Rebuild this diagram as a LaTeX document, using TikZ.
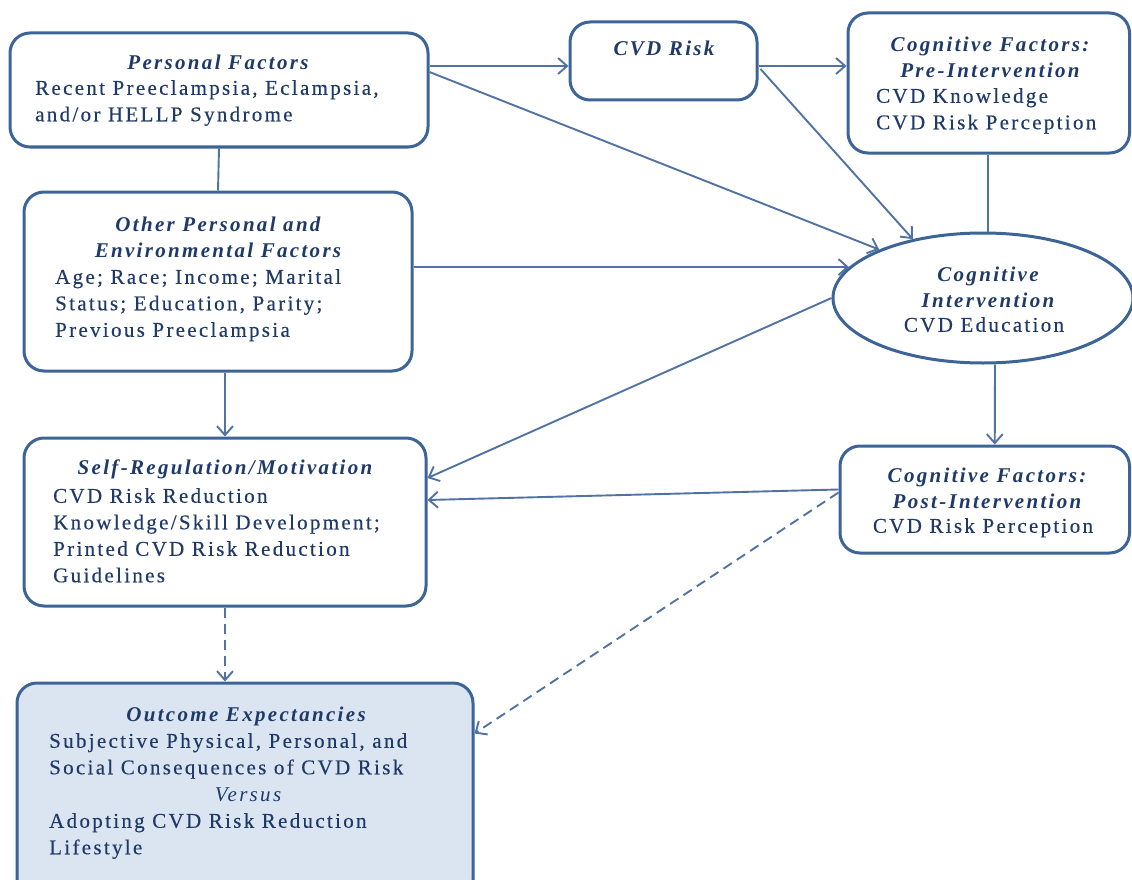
\documentclass[tikz,border=0pt]{standalone}
\usepackage{fontspec}
\setmainfont{Liberation Serif}[LetterSpace=11]
\usetikzlibrary{arrows.meta,shapes.geometric}
\definecolor{bord}{HTML}{3C6497}
\definecolor{conn}{HTML}{5073A3}
\definecolor{txt}{HTML}{1F3A68}
\definecolor{fillb}{HTML}{DBE5F1}
\begin{document}
\begin{tikzpicture}[x=1pt,y=-1pt,
  box/.style={draw=bord, line width=3pt, rounded corners=20pt, fill=white, inner sep=0pt},
  ttl/.style={font=\fontsize{21}{26}\selectfont\bfseries\itshape, text=txt, inner sep=0pt, align=center},
  bdy/.style={font=\fontsize{21}{26.5}\selectfont\addfontfeature{FakeBold=0.3}, text=txt, inner sep=0pt, align=left, anchor=north west},
  arr/.style={draw=conn, line width=1.9pt, -{Straight Barb[length=9pt,width=16pt]}},
  ln/.style={draw=conn, line width=1.9pt},
  dsh/.style={arr, dash pattern=on 10pt off 6pt}]
\useasboundingbox (0,0) rectangle (1132,880);
\fill[white] (0,0) rectangle (1132,880);
% boxes
\node[box, minimum width=418pt, minimum height=114pt] (pf) at (219,90) {};
\node[box, minimum width=187pt, minimum height=78pt] (cvd) at (663.5,61) {};
\node[box, minimum width=281.5pt, minimum height=140pt] (cp) at (988.75,83) {};
\node[box, minimum width=388pt, minimum height=179pt] (op) at (218,281.5) {};
\node[draw=bord, line width=3pt, ellipse, fill=white, minimum width=300pt, minimum height=130pt, inner sep=0pt] (ci) at (983,298) {};
\node[box, minimum width=402pt, minimum height=168pt] (sr) at (225,522) {};
\node[box, minimum width=289.5pt, minimum height=107pt] (cpo) at (984.75,499.5) {};
\node[box, fill=fillb, minimum width=456pt, minimum height=217pt] (oe) at (245,791.5) {};
% texts
\node[ttl] (t1) at (218,62) {Personal Factors};
\node[bdy] (b1) at (35,80) {Recent Preeclampsia, Eclampsia,\\and/or HELLP Syndrome};
\node[ttl] (t2) at (664,48) {CVD Risk};
\node[ttl] (t3) at (990,57) {Cognitive Factors:\\Pre-Intervention};
\node[bdy] (b3) at (876,88) {CVD Knowledge\\CVD Risk Perception};
\node[ttl] (t4) at (218,237) {Other Personal and\\Environmental Factors};
\node[bdy] (b4) at (55,269) {Age; Race; Income; Marital\\Status; Education, Parity;\\Previous Preeclampsia};
\node[ttl] (t5) at (988,287) {Cognitive\\Intervention};
\node[bdy, anchor=north] (b5) at (984,317) {CVD Education};
\node[ttl] (t6) at (225,469) {Self-Regulation/Motivation};
\node[bdy] (b6) at (53,488) {CVD Risk Reduction\\Knowledge/Skill Development;\\Printed CVD Risk Reduction\\Guidelines};
\node[ttl] (t7) at (987,488) {Cognitive Factors:\\Post-Intervention};
\node[bdy, anchor=north] (b7) at (983,518) {CVD Risk Perception};
\node[ttl] (t8) at (246,716) {Outcome Expectancies};
\node[bdy] (b8) at (49,733) {Subjective Physical, Personal, and\\Social Consequences of CVD Risk};
\node[font=\fontsize{21}{26}\selectfont\itshape, text=txt, inner sep=0pt] (v8) at (248,795) {Versus};
\node[bdy] (c8) at (49,813) {Adopting CVD Risk Reduction\\Lifestyle};
% connectors
\draw[arr] ([yshift=-5pt]pf.east |- cvd.west) -- ([yshift=-5pt]cvd.west);
\draw[arr] ([yshift=18pt]pf.east) -- (ci.155);
\draw[ln] (pf.south) -- (op.north);
\draw[arr] ([yshift=-5pt]cvd.east) -- ([yshift=-5pt]cvd.east -| cp.west);
\draw[arr] ([yshift=-8pt,xshift=2pt]cvd.east) -- (ci.140);
\draw[ln] ([xshift=5pt]cp.south -| ci.north) -- ([xshift=5pt]ci.north);
\draw[arr] (op.east |- ci.167) -- (ci.167);
\draw[arr] (op.south -| sr.north) -- (sr.north);
\draw[arr] (ci.west) -- ([yshift=44pt]sr.east);
\draw[arr] ([xshift=12pt]ci.south) -- ([xshift=10pt]cpo.north);
\draw[arr] ([yshift=10pt]cpo.west) -- ([yshift=22pt]sr.east);
\draw[dsh] (sr.south) -- (sr.south |- oe.north);
\draw[dsh] ([yshift=7pt]cpo.west) -- ([yshift=58pt]oe.east);
\end{tikzpicture}
\end{document}
